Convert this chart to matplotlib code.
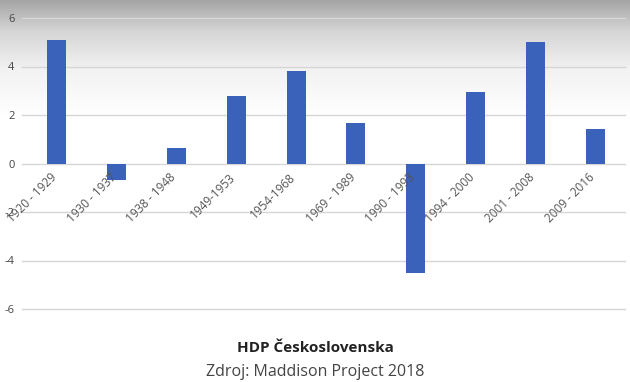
import numpy as np
import matplotlib.pyplot as plt
from matplotlib.colors import LinearSegmentedColormap

# HDP growth per period
periods = ['1920 - 1929', '1930 - 1937', '1938 - 1948', '1949-1953', '1954-1968',
           '1969 - 1989', '1990 - 1993', '1994 - 2000', '2001 - 2008', '2009 - 2016']
growth = [5.1, -0.7, 0.62, 2.78, 3.82, 1.65, -4.5, 2.95, 5.0, 1.42]
yticks = [-6, -4, -2, 0, 2, 4, 6]

plt.rcParams['font.family'] = ['Open Sans', 'DejaVu Sans']
plt.rcParams['axes.unicode_minus'] = False

fig = plt.figure(figsize=(6.3, 3.82), dpi=100)

# grey shading at the top of the screenshot
bg = fig.add_axes([0, 0, 1, 1], zorder=-10)
grad = np.linspace(0, 1, 382).reshape(-1, 1)
cmap = LinearSegmentedColormap.from_list('shade', [(0, '#a6a6a6'), (0.08, '#d6d6d6'),
                                                    (0.18, '#f2f2f2'), (0.3, '#ffffff'),
                                                    (1, '#ffffff')])
bg.imshow(grad, aspect='auto', cmap=cmap, extent=[0, 1, 0, 1], origin='upper')
bg.axis('off')

ax = fig.add_axes([27 / 630, 1 - 309 / 382, 598 / 630, 291 / 382])
ax.patch.set_alpha(0)
x = np.arange(len(periods))
ax.bar(x, growth, width=0.32, color='#3a62ba', zorder=3)

ax.set_ylim(-6, 6)
ax.set_xlim(-0.5, len(periods) - 0.5)
ax.set_yticks(yticks)
ax.set_yticklabels([str(t) for t in yticks])
ax.tick_params(axis='y', length=0, pad=9, labelsize=8, labelcolor='#444444')
ax.set_xticks([])
for s in ax.spines.values():
    s.set_visible(False)
# gridlines reach a bit left of the plotting area
for t in yticks:
    ax.plot([-0.58, len(periods) - 0.5], [t, t], color='#d6d6d6', lw=1,
            zorder=0, clip_on=False)

for xi, lab in zip(x, periods):
    ax.text(xi - 0.12, -0.3, lab, rotation=45, ha='right', va='top',
            rotation_mode='anchor', fontsize=8.5, color='#555555', zorder=4)

fig.text(0.5, 1 - 348 / 382, 'HDP Československa', ha='center', va='center',
         fontsize=11, fontweight='bold', color='#222222')
fig.text(0.5, 1 - 372 / 382, 'Zdroj: Maddison Project 2018', ha='center', va='center',
         fontsize=11.5, color='#444444')

fig.savefig('out.png', dpi=100)
